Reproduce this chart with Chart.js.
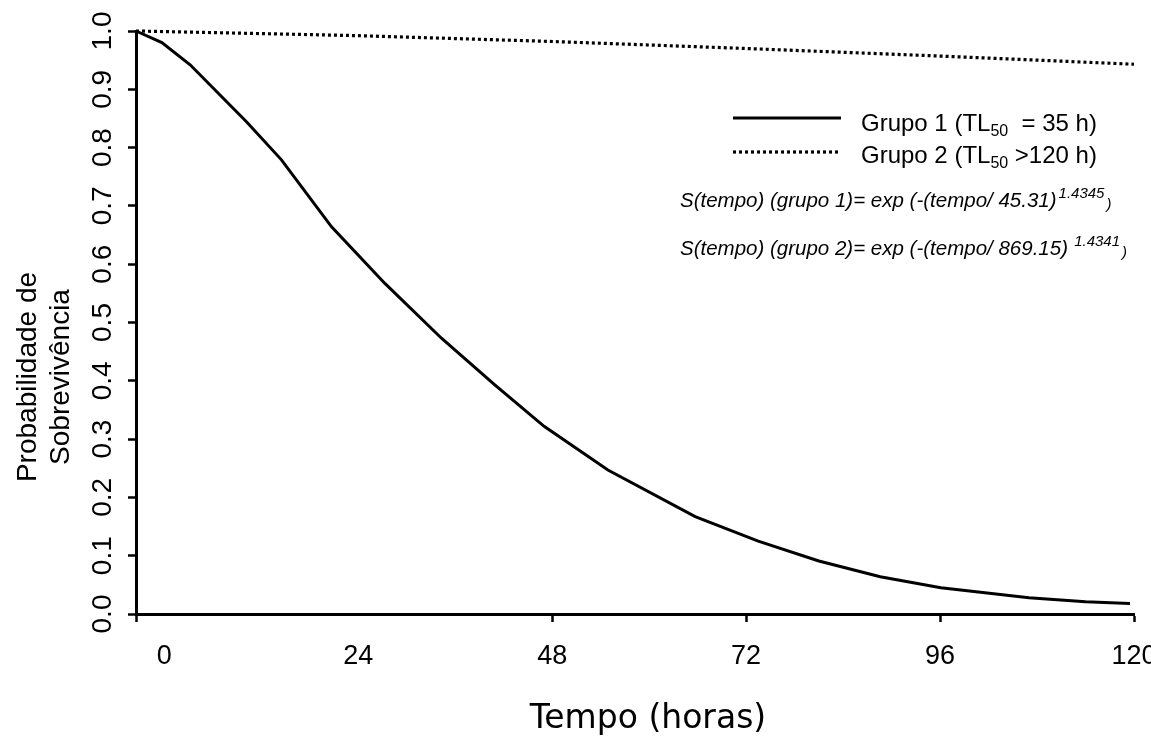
<!DOCTYPE html>
<html>
<head>
<meta charset="utf-8">
<script src="https://cdn.jsdelivr.net/npm/chart.js@4.4.0/dist/chart.umd.min.js"></script>
<style>
  html, body { margin: 0; padding: 0; background: #fff; }
</style>
</head>
<body>
<canvas id="survivalChart" width="1151" height="736"></canvas>
<script>
// valores (tempo em horas, probabilidade de sobrevivencia)
const tempoGrupo1 = [-3.5, -0.3, 3.2, 10.2, 14.5, 20.7, 27.3, 34.3, 40.9, 47.0, 54.9, 65.7, 73.5, 81.0, 88.6, 96.1, 107, 114, 119.5];
const survGrupo1 = [1.0, 0.980, 0.942, 0.844, 0.779, 0.664, 0.567, 0.473, 0.393, 0.322, 0.247, 0.167, 0.125, 0.091, 0.064, 0.045, 0.028, 0.021, 0.018];
const tempoGrupo2 = [-3.5, 0, 24, 48, 72, 96, 120];
const survGrupo2 = [1.0, 0.999, 0.992, 0.982, 0.970, 0.957, 0.943];

const xTicks = [0, 24, 48, 72, 96, 120];
const xTickMarks = [48, 72, 96, 120];
const yTicks = [0, 0.1, 0.2, 0.3, 0.4, 0.5, 0.6, 0.7, 0.8, 0.9, 1.0];

const xTitle = "Tempo (horas)";
const yTitle = ["Probabilidade de", "Sobrevivência"];
const legendNames = ["Grupo 1 (TL", "Grupo 2 (TL"];
const legendTails = ["  = 35 h)", " >120 h)"];
const equations = [
  ["S(tempo) (grupo 1)= exp (-(tempo/ 45.31)", "1.4345"],
  ["S(tempo) (grupo 2)= exp (-(tempo/ 869.15)", " 1.4341"]
];

const xMin = -3.5;

function toPoints(xs, ys) {
  return xs.map((x, i) => ({ x: x, y: ys[i] }));
}

// textos livres: titulos, legenda e equacoes
const textPlugin = {
  id: 'textPlugin',
  afterDraw(chart) {
    const ctx = chart.ctx;
    ctx.save();
    ctx.fillStyle = '#000';
    ctx.strokeStyle = '#000';

    // titulo eixo x
    ctx.font = "33px 'DejaVu Sans'";
    ctx.textAlign = 'center';
    ctx.textBaseline = 'alphabetic';
    ctx.fillText(xTitle, 648, 728);

    // titulo eixo y (duas linhas)
    ctx.font = "28px 'Liberation Sans'";
    [36, 69].forEach((bx, i) => {
      ctx.save();
      ctx.translate(bx, 377);
      ctx.rotate(-Math.PI / 2);
      ctx.fillText(yTitle[i], 0, 0);
      ctx.restore();
    });

    // legenda
    ctx.textAlign = 'left';
    ctx.lineWidth = 3.2;
    [118, 152].forEach((ly, i) => {
      ctx.setLineDash(i === 0 ? [] : [3, 3]);
      ctx.beginPath();
      ctx.moveTo(733, ly);
      ctx.lineTo(841, ly);
      ctx.stroke();
    });
    ctx.setLineDash([]);
    [131, 163].forEach((by, i) => {
      let x = 861;
      ctx.font = "24px 'Liberation Sans'";
      ctx.fillText(legendNames[i], x, by);
      x += ctx.measureText(legendNames[i]).width;
      ctx.font = "16px 'Liberation Sans'";
      ctx.fillText("50", x, by + 5);
      x += ctx.measureText("50").width;
      ctx.font = "24px 'Liberation Sans'";
      ctx.fillText(legendTails[i], x, by);
    });

    // equacoes
    [207, 255].forEach((by, i) => {
      let x = 680;
      ctx.font = "italic 20.5px 'Liberation Sans'";
      ctx.fillText(equations[i][0], x, by);
      x += ctx.measureText(equations[i][0]).width;
      ctx.font = "italic 15px 'Liberation Sans'";
      ctx.fillText(equations[i][1], x + 2, by - 9);
      x += ctx.measureText(equations[i][1]).width + 4;
      ctx.fillText(")", x, by + 2);
    });

    ctx.restore();
  }
};

const ctx = document.getElementById("survivalChart");
const chart = new Chart(ctx, {
  type: 'line',
  data: {
    datasets: [{
      label: "Grupo 1",
      data: toPoints(tempoGrupo1, survGrupo1),
      borderColor: '#000',
      borderWidth: 3,
      pointRadius: 0,
      tension: 0,
      fill: false,
      clip: false
    }, {
      label: "Grupo 2",
      data: toPoints(tempoGrupo2, survGrupo2),
      borderColor: '#000',
      borderWidth: 3.2,
      borderDash: [3, 3],
      pointRadius: 0,
      tension: 0,
      fill: false,
      clip: false
    }]
  },
  options: {
    responsive: false,
    animation: false,
    events: [],
    layout: {
      padding: { top: 31, right: 17, bottom: 0, left: 0 }
    },
    plugins: {
      legend: { display: false },
      tooltip: { enabled: false }
    },
    scales: {
      x: {
        type: 'linear',
        min: xMin,
        max: 120,
        afterBuildTicks: s => {
          s.ticks = [{ value: xMin }].concat(xTicks.map(v => ({ value: v })));
        },
        afterFit: s => {
          s.height = 122;
          s.paddingLeft = 0;
          s.paddingRight = 0;
        },
        border: { display: true, color: '#000', width: 3 },
        grid: {
          drawOnChartArea: false,
          drawTicks: true,
          tickLength: 8,
          tickWidth: 2.5,
          tickColor: c => (c.tick && (c.tick.value < 0 || xTickMarks.includes(c.tick.value))) ? '#000' : 'rgba(0,0,0,0)'
        },
        ticks: {
          color: '#000',
          font: { family: 'Liberation Sans', size: 27 },
          padding: 18,
          maxRotation: 0,
          autoSkip: false,
          callback: v => v < 0 ? '' : String(v)
        }
      },
      y: {
        min: 0,
        max: 1,
        afterBuildTicks: s => {
          s.ticks = yTicks.map(v => ({ value: v }));
        },
        afterFit: s => {
          s.width = 136;
          s.paddingTop = 0;
          s.paddingBottom = 0;
        },
        border: { display: true, color: '#000', width: 3 },
        grid: {
          drawOnChartArea: false,
          drawTicks: true,
          tickLength: 8,
          tickWidth: 2.5,
          tickColor: '#000'
        },
        ticks: {
          color: '#000',
          font: { family: 'Liberation Sans', size: 28 },
          padding: 5,
          minRotation: 90,
          maxRotation: 90,
          crossAlign: 'center',
          callback: v => v.toFixed(1)
        }
      }
    }
  },
  plugins: [textPlugin]
});
</script>
</body>
</html>
